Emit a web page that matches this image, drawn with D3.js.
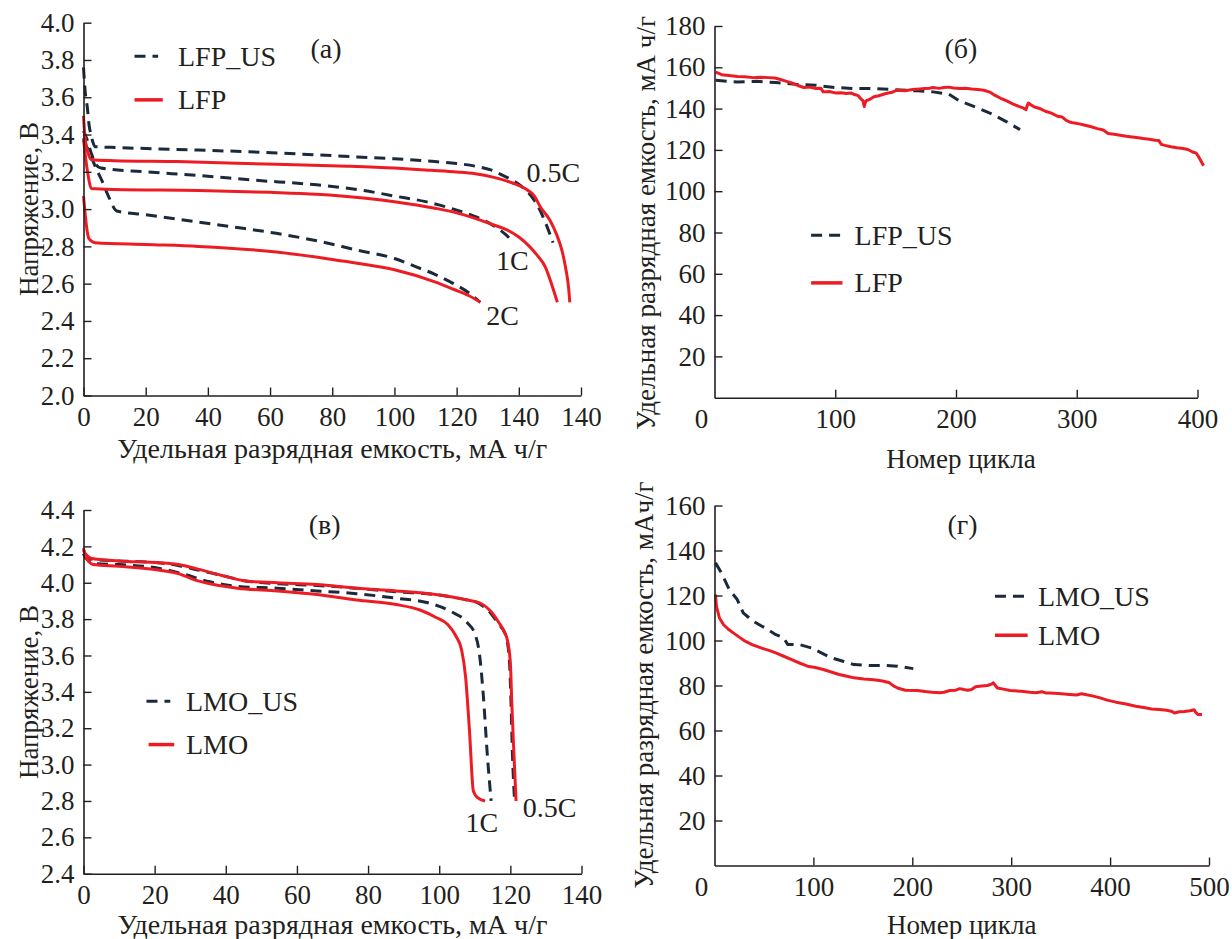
<!DOCTYPE html>
<html><head><meta charset="utf-8">
<script src="https://cdn.jsdelivr.net/npm/d3@7"></script>
<style>
html,body{margin:0;padding:0;background:#fff;}
svg text{font-family:"Liberation Serif","Times New Roman",serif;fill:#231f20;}
</style></head>
<body><svg id="c" width="1232" height="939"></svg>
<script>
// ---------- DATA ----------
// Panel (а): discharge curves LFP, [capacity mAh/g, voltage V]
const lfp05 = [[0,3.50],[0.5,3.38],[1.5,3.30],[2.5,3.265],[10,3.26],[30,3.255],[62,3.24],[85,3.23],[100,3.22],[110,3.21],[119,3.20],[126,3.19],[132,3.17],[138,3.14],[142,3.11],[145,3.07],[147,3.01],[150,2.94],[152,2.87],[154,2.77],[155,2.69],[156,2.58],[156.4,2.50]];
const lfp1 = [[0,3.38],[0.5,3.30],[1.5,3.18],[2.5,3.11],[10,3.105],[37,3.10],[60,3.09],[75,3.08],[90,3.06],[100,3.04],[113,3.005],[120,2.98],[126,2.95],[131,2.92],[136,2.89],[140,2.85],[143.4,2.80],[146,2.75],[148.5,2.69],[150.5,2.60],[152.4,2.50]];
const lfp2 = [[0,3.07],[0.5,2.98],[1.2,2.88],[1.8,2.84],[3.7,2.82],[20,2.81],[37,2.80],[62,2.77],[80,2.73],[88,2.71],[100,2.675],[113,2.61],[119,2.57],[124,2.535],[127.6,2.50]];
const lfpUS05 = [[0,3.76],[0.6,3.62],[1.2,3.55],[1.8,3.45],[2.4,3.40],[3.0,3.36],[3.7,3.335],[11,3.33],[30,3.32],[49,3.31],[70,3.295],[88,3.28],[100,3.27],[113,3.255],[120,3.245],[126,3.23],[131,3.21],[135,3.18],[141,3.12],[144,3.07],[146,3.02],[148.5,2.93],[151,2.82]];
const lfpUS1 = [[0,3.42],[1,3.38],[2.5,3.30],[4,3.24],[5.6,3.22],[20,3.20],[37,3.18],[55,3.155],[75,3.13],[90,3.10],[100,3.07],[110,3.04],[119,3.00],[126,2.96],[132,2.91],[136,2.86],[138.4,2.82]];
const lfpUS2 = [[0,3.37],[2,3.30],[4,3.22],[6,3.15],[8,3.07],[10.7,2.99],[20,2.97],[37,2.93],[50,2.90],[62,2.87],[75,2.83],[88,2.78],[100,2.735],[107,2.69],[113,2.65],[119,2.60],[124,2.55],[127.6,2.50]];
const aXTicks = [0,20,40,60,80,100,120,140,160];
const aXLabels = ["0","20","40","60","80","100","120","140","140"];
const aYTicks = [2.0,2.2,2.4,2.6,2.8,3.0,3.2,3.4,3.6,3.8,4.0];

// Panel (б): cycling LFP, [cycle, capacity]
const lfpCycle = [[1,157.7],[6,156.4],[12,156.0],[19,155.6],[25,155.4],[32,155.0],[38,155.2],[45,155.0],[50,154.8],[54,154.2],[59,153.3],[64,152.4],[69,151.2],[74,150.2],[79,150.4],[84,149.7],[88,149.9],[90,148.1],[95,148.3],[100,147.6],[105,147.7],[109,147.3],[113,147.6],[116,146.8],[119,146.3],[121,144.8],[123,143.8],[124,141.0],[125,143.2],[126,144.0],[128,144.3],[132,145.7],[136,146.2],[142,147.3],[147,147.9],[151,148.9],[158,148.6],[164,149.2],[170,149.5],[174,149.7],[178,149.9],[181,150.2],[186,149.8],[190,150.2],[194,150.4],[198,150.0],[203,149.7],[208,149.8],[213,149.5],[218,149.3],[223,148.9],[228,148.0],[232,146.5],[237,145.0],[242,143.7],[247,142.3],[252,141.1],[256,140.2],[258,139.5],[259,141.5],[260,142.7],[262,141.8],[265,140.8],[270,139.9],[274,138.7],[279,137.8],[284,136.3],[288,135.9],[291,134.4],[294,133.5],[297,133.1],[302,132.6],[307,131.9],[312,131.2],[317,130.3],[322,129.6],[326,127.9],[331,127.6],[336,127.1],[341,126.6],[346,126.3],[351,125.9],[355,125.5],[360,125.2],[365,124.7],[368,124.5],[370,122.7],[373,122.2],[378,121.5],[383,121.0],[388,120.7],[392,120.2],[396,119.0],[399,118.4],[401,116.6],[403,114.5],[405,112.3]];
const lfpUSCycle = [[1,153.7],[19,152.9],[35,153.2],[51,152.6],[67,151.8],[84,151.3],[100,150.2],[116,149.7],[132,149.7],[148,149.2],[168,148.6],[181,148.1],[194,147.0],[203,143.7],[216,140.8],[229,137.6],[242,133.6],[253,129.8]];
const bXTicks = [100,200,300,400];
const bYTicks = [20,40,60,80,100,120,140,160,180];

// Panel (в): discharge curves LMO
const lmo05 = [[0,4.18],[0.5,4.16],[2.1,4.135],[9.9,4.12],[21,4.11],[26.6,4.10],[32.2,4.075],[38.9,4.04],[45.6,4.01],[54.5,4.00],[65.6,3.99],[76.7,3.97],[87.9,3.955],[99,3.935],[104,3.92],[107.9,3.905],[111.3,3.89],[114.6,3.84],[116.8,3.78],[118.3,3.73],[119.1,3.69],[120,3.56],[120.4,3.34],[121,3.06],[121.6,2.80]];
const lmoUS05 = [[0,4.16],[0.5,4.15],[2.1,4.13],[9.9,4.12],[21,4.11],[26.6,4.095],[32.2,4.07],[38.9,4.04],[45.6,4.01],[54.5,3.995],[65.6,3.985],[76.7,3.97],[87.9,3.95],[99,3.935],[104,3.92],[107.9,3.905],[111.3,3.885],[114.6,3.83],[116.8,3.77],[118.3,3.73],[119.1,3.68],[119.8,3.55],[120.2,3.33],[120.6,3.05],[121.2,2.80]];
const lmoUS1 = [[0,4.16],[0.5,4.14],[3.2,4.105],[9.9,4.10],[21,4.08],[27.7,4.05],[35.5,4.005],[43.3,3.98],[54.5,3.97],[65.6,3.955],[76.7,3.94],[87.9,3.915],[96.8,3.89],[103.5,3.84],[107.9,3.78],[110.2,3.71],[111.3,3.61],[112.4,3.38],[113.5,3.06],[114.6,2.80]];
const lmo1 = [[0,4.19],[0.5,4.15],[2.7,4.10],[9.9,4.09],[21,4.07],[26.6,4.05],[32.2,4.01],[36.6,3.99],[43.3,3.97],[54.5,3.955],[65.6,3.935],[76.7,3.905],[87.9,3.88],[94.6,3.85],[99,3.81],[102.4,3.77],[104.6,3.71],[106.3,3.63],[107.4,3.485],[108.5,3.19],[109.6,2.855],[110.7,2.82],[112.9,2.80]];
const cXTicks = [0,20,40,60,80,100,120,140];
const cYTicks = [2.4,2.6,2.8,3.0,3.2,3.4,3.6,3.8,4.0,4.2,4.4];

// Panel (г): cycling LMO
const lmoCycle = [[1,120.4],[2,115.2],[5,110],[9,107.1],[14,105],[19,103.4],[25,101.5],[31,99.7],[38,98.2],[47,96.7],[55,95.6],[62,94.5],[70,93],[78,91.5],[86,90],[94,88.6],[102,88],[110,87.1],[118,86],[126,84.9],[134,84.1],[141,83.4],[151,82.9],[161,82.6],[170,82],[177,81.2],[181,79.8],[185,78.9],[193,77.9],[205,77.8],[213,77.3],[220,77],[228,76.8],[232,77],[238,77.8],[244,77.9],[248,78.6],[252,78.2],[256,77.9],[260,78.2],[264,79.4],[270,79.8],[276,80],[280,80.6],[282,81.2],[284,80],[286,78.9],[292,78.4],[299,77.8],[310,77.4],[319,77],[325,76.8],[331,77.2],[335,76.7],[339,76.7],[348,76.4],[359,76],[366,75.8],[371,76.3],[375,76],[382,75.4],[390,74.5],[397,73.5],[406,72.6],[416,71.8],[426,70.8],[434,70.2],[442,69.6],[450,69.3],[457,69],[462,68.6],[465,67.8],[470,68.3],[475,68.4],[481,68.8],[485,69.2],[487,67.8],[489,67.1],[493,67.1]];
const lmoUSCycle = [[1,134.5],[7,130],[15,122.6],[23,118.2],[29,112.3],[39,108.6],[51,105.6],[62,102.6],[70,101.2],[74,98.2],[86,98.2],[98,96.7],[108,94.5],[118,92.3],[130,90.8],[141,89.3],[157,88.9],[173,88.9],[185,88.6],[201,87.5]];
const dXTicks = [100,200,300,400,500];
const dYTicks = [20,40,60,80,100,120,140,160];

// ---------- DRAW ----------
const RED = "#ed1c24", NAVY = "#1b2a3a", AX = "#231f20";
const TICK_FS = 27, TITLE_FS = 27, LEG_FS = 28;
const svg = d3.select("#c");

function panel(o) {
  const g = svg.append("g");
  const x = d3.scaleLinear().domain(o.xd).range(o.xr);
  const y = d3.scaleLinear().domain(o.yd).range(o.yr);
  o.series.forEach(s => {
    g.append("path").datum(s.data)
      .attr("fill", "none")
      .attr("stroke", s.dash ? NAVY : RED)
      .attr("stroke-width", 3)
      .attr("stroke-dasharray", s.dash ? "11,7" : null)
      .attr("stroke-linejoin", "round")
      .attr("d", d3.line().x(d => x(d[0])).y(d => y(d[1])).curve(o.curve));
  });
  const xa = d3.axisBottom(x).tickValues(o.xTicks).tickSizeInner(-8).tickSizeOuter(0).tickPadding(11)
    .tickFormat((d, i) => o.xLabels ? o.xLabels[i] : d);
  const gx = g.append("g").attr("transform", `translate(0,${o.yr[0]})`).call(xa);
  const ya = d3.axisLeft(y).tickValues(o.yTicks).tickSizeInner(-8).tickSizeOuter(0).tickPadding(9)
    .tickFormat(o.yFmt);
  const gy = g.append("g").attr("transform", `translate(${o.xr[0]},0)`).call(ya);
  [gx, gy].forEach(a => {
    a.select(".domain").attr("stroke", AX).attr("stroke-width", 1.6);
    a.selectAll(".tick line").attr("stroke", AX).attr("stroke-width", 1.4);
    a.selectAll(".tick text").attr("font-size", TICK_FS).attr("fill", AX)
      .attr("font-family", '"Liberation Serif", serif');
  });
  if (o.zeroLabel) {
    g.append("text").attr("x", x(0) - 13).attr("y", o.yr[0] + 11).attr("dy", "0.71em")
      .attr("text-anchor", "middle").attr("font-size", TICK_FS).text("0");
  }
  g.append("text").attr("x", (o.xr[0] + o.xr[1]) / 2 + (o.xTitleDx || 0)).attr("y", o.xTitleY)
    .attr("text-anchor", "middle").attr("dominant-baseline", "central")
    .attr("font-size", TITLE_FS).attr("textLength", o.xTitleLen || null)
    .attr("lengthAdjust", "spacingAndGlyphs").text(o.xTitle);
  g.append("text").attr("transform", `translate(${o.yTitleX},${o.yTitleCy}) rotate(-90)`)
    .attr("text-anchor", "middle").attr("dominant-baseline", "central")
    .attr("font-size", TITLE_FS).text(o.yTitle);
  g.append("text").attr("x", x(o.letter[0])).attr("y", y(o.letter[1]))
    .attr("text-anchor", "middle").attr("dominant-baseline", "central")
    .attr("font-size", LEG_FS).text(o.letter[2]);
  o.legend.forEach(l => {
    g.append("line").attr("x1", x(l.x0)).attr("x2", x(l.x1)).attr("y1", y(l.y)).attr("y2", y(l.y))
      .attr("stroke", l.dash ? NAVY : RED).attr("stroke-width", l.dash ? 3 : 3.5)
      .attr("stroke-dasharray", l.dash ? "11,7" : null);
    g.append("text").attr("x", x(l.tx)).attr("y", y(l.y)).attr("dominant-baseline", "central")
      .attr("font-size", LEG_FS).text(l.label);
  });
  (o.notes || []).forEach(n => {
    g.append("text").attr("x", x(n[0])).attr("y", y(n[1])).attr("dominant-baseline", "central")
      .attr("font-size", LEG_FS).text(n[2]);
  });
}

const xTitleCap = "Удельная разрядная емкость, мА ч/г";

panel({
  xd: [0, 160], xr: [83.5, 581], yd: [2.0, 4.0], yr: [395.5, 22.7],
  curve: d3.curveMonotoneX,
  series: [
    {data: lfpUS05, dash: true}, {data: lfpUS1, dash: true}, {data: lfpUS2, dash: true},
    {data: lfp05}, {data: lfp1}, {data: lfp2}
  ],
  xTicks: aXTicks, xLabels: aXLabels, yTicks: aYTicks, yFmt: d3.format(".1f"),
  xTitle: xTitleCap, xTitleY: 449, xTitleLen: 430, yTitle: "Напряжение, В", yTitleX: 29, yTitleCy: 209,
  letter: [78, 3.862, "(а)"],
  legend: [
    {x0: 16.4, x1: 24, y: 3.82, tx: 30.4, label: "LFP_US", dash: true},
    {x0: 16.4, x1: 25.5, y: 3.586, tx: 30.4, label: "LFP"}
  ],
  notes: [[142.5, 3.195, "0.5C"], [132.7, 2.725, "1C"], [129.5, 2.43, "2C"]]
});

panel({
  xd: [0, 400], xr: [714.5, 1197.5], yd: [0, 180], yr: [397.7, 26],
  curve: d3.curveLinear,
  series: [{data: lfpUSCycle, dash: true}, {data: lfpCycle}],
  xTicks: bXTicks, yTicks: bYTicks, yFmt: d3.format("d"), zeroLabel: true,
  xTitle: "Номер цикла", xTitleY: 459, xTitleDx: 5,
  yTitle: xTitleCap, yTitleX: 646, yTitleCy: 223,
  letter: [204, 168.9, "(б)"],
  legend: [
    {x0: 80, x1: 106, y: 78.7, tx: 116, label: "LFP_US", dash: true},
    {x0: 80, x1: 106, y: 55.6, tx: 116, label: "LFP"}
  ]
});

panel({
  xd: [0, 140], xr: [83.5, 581.5], yd: [2.4, 4.4], yr: [873.7, 510],
  curve: d3.curveMonotoneX,
  series: [{data: lmoUS05, dash: true}, {data: lmoUS1, dash: true}, {data: lmo05}, {data: lmo1}],
  xTicks: cXTicks, yTicks: cYTicks, yFmt: d3.format(".1f"),
  xTitle: xTitleCap, xTitleY: 924.5, xTitleLen: 430, yTitle: "Напряжение, В", yTitleX: 29, yTitleCy: 692,
  letter: [67.8, 4.318, "(в)"],
  legend: [
    {x0: 17.7, x1: 24.4, y: 3.348, tx: 28.8, label: "LMO_US", dash: true},
    {x0: 18.3, x1: 25.5, y: 3.11, tx: 28.8, label: "LMO"}
  ],
  notes: [[107.4, 2.68, "1C"], [123.5, 2.763, "0.5C"]]
});

panel({
  xd: [0, 500], xr: [714.5, 1209], yd: [0, 160], yr: [865.5, 505.5],
  curve: d3.curveLinear,
  series: [{data: lmoUSCycle, dash: true}, {data: lmoCycle}],
  xTicks: dXTicks, yTicks: dYTicks, yFmt: d3.format("d"), zeroLabel: true,
  xTitle: "Номер цикла", xTitleY: 924.5,
  yTitle: "Удельная разрядная емкость, мАч/г", yTitleX: 644, yTitleCy: 685,
  letter: [250.8, 151.5, "(г)"],
  legend: [
    {x0: 283.6, x1: 315, y: 119.7, tx: 327, label: "LMO_US", dash: true},
    {x0: 283.6, x1: 316.6, y: 102.3, tx: 327, label: "LMO"}
  ]
});
</script></body></html>
